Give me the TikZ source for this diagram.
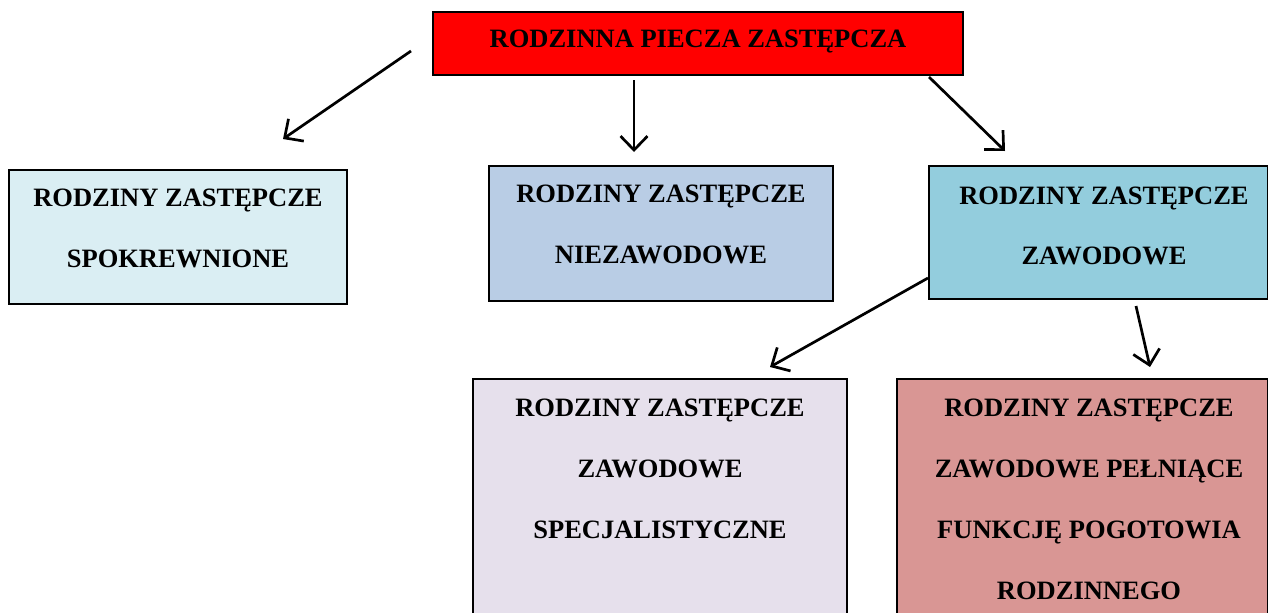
\documentclass[tikz,border=0pt]{standalone}
\usepackage{fontspec}
\setmainfont{Liberation Serif}
\usetikzlibrary{arrows.meta,calc}
\definecolor{cRed}{HTML}{FF0000}
\definecolor{cOne}{HTML}{DAEEF3}
\definecolor{cTwo}{HTML}{B9CDE5}
\definecolor{cThree}{HTML}{93CDDD}
\definecolor{cFour}{HTML}{E6E0EC}
\definecolor{cFive}{HTML}{D99694}
\begin{document}
\begin{tikzpicture}[x=1pt,y=-1pt,
  boxstyle/.style={draw=black,line width=1.3pt,inner sep=0pt,outer sep=0pt,anchor=north west},
  txt/.style={inner sep=0pt,align=center,font=\bfseries\fontsize{26.5}{60.8}\selectfont},
  arr/.style={line width=2.7pt,-{Straight Barb[length=14pt,width=27pt,line width=2.7pt]}}]
\useasboundingbox (0,0) rectangle (1269,613);
\begin{scope}
\clip (0,0) rectangle (1269,613);
% boxes
\node[boxstyle,fill=cRed,minimum width=530pt,minimum height=63pt] (top) at (433,12) {};
\node[boxstyle,fill=cOne,minimum width=338pt,minimum height=134pt] (b1) at (9,170) {};
\node[boxstyle,fill=cTwo,minimum width=344pt,minimum height=135pt] (b2) at (489,166) {};
\node[boxstyle,fill=cThree,minimum width=338.5pt,minimum height=133pt] (b3) at (929,166) {};
\node[boxstyle,fill=cFour,minimum width=374pt,minimum height=260pt] (b4) at (473,379) {};
\node[boxstyle,fill=cFive,minimum width=370.5pt,minimum height=260pt] (b5) at (897,379) {};
% texts
\node[txt] (ttop) at (698,42) {RODZINNA PIECZA ZASTĘPCZA};
\node[txt] (t1) at (178,228.5) {RODZINY ZASTĘPCZE\\SPOKREWNIONE};
\node[txt] (t2) at (661,224.5) {RODZINY ZASTĘPCZE\\NIEZAWODOWE};
\node[txt] (t3) at (1104,226) {RODZINY ZASTĘPCZE\\ZAWODOWE};
\node[txt] (t4) at (660,469) {RODZINY ZASTĘPCZE\\ZAWODOWE\\SPECJALISTYCZNE};
\node[txt] (t5) at (1089,499.5) {RODZINY ZASTĘPCZE\\ZAWODOWE PEŁNIĄCE\\FUNKCJĘ POGOTOWIA\\RODZINNEGO};
\end{scope}
% arrow end points
\coordinate (a1s) at (411,51);  \coordinate (a1e) at (283,139);
\coordinate (a2s) at (634,80);  \coordinate (a2e) at (634,152);
\coordinate (a3s) at (929,77);  \coordinate (a3e) at (1005,151);
\coordinate (a4s) at (928,278); \coordinate (a4e) at (770,367);
\coordinate (a5s) at (1136,306);\coordinate (a5e) at (1150,367);
\draw[arr] (a1s) -- (a1e);
\draw[arr] (a2s) -- (a2e);
\draw[arr] (a3s) -- (a3e);
\draw[arr] (a4s) -- (a4e);
\draw[arr] (a5s) -- (a5e);
\end{tikzpicture}
\end{document}
